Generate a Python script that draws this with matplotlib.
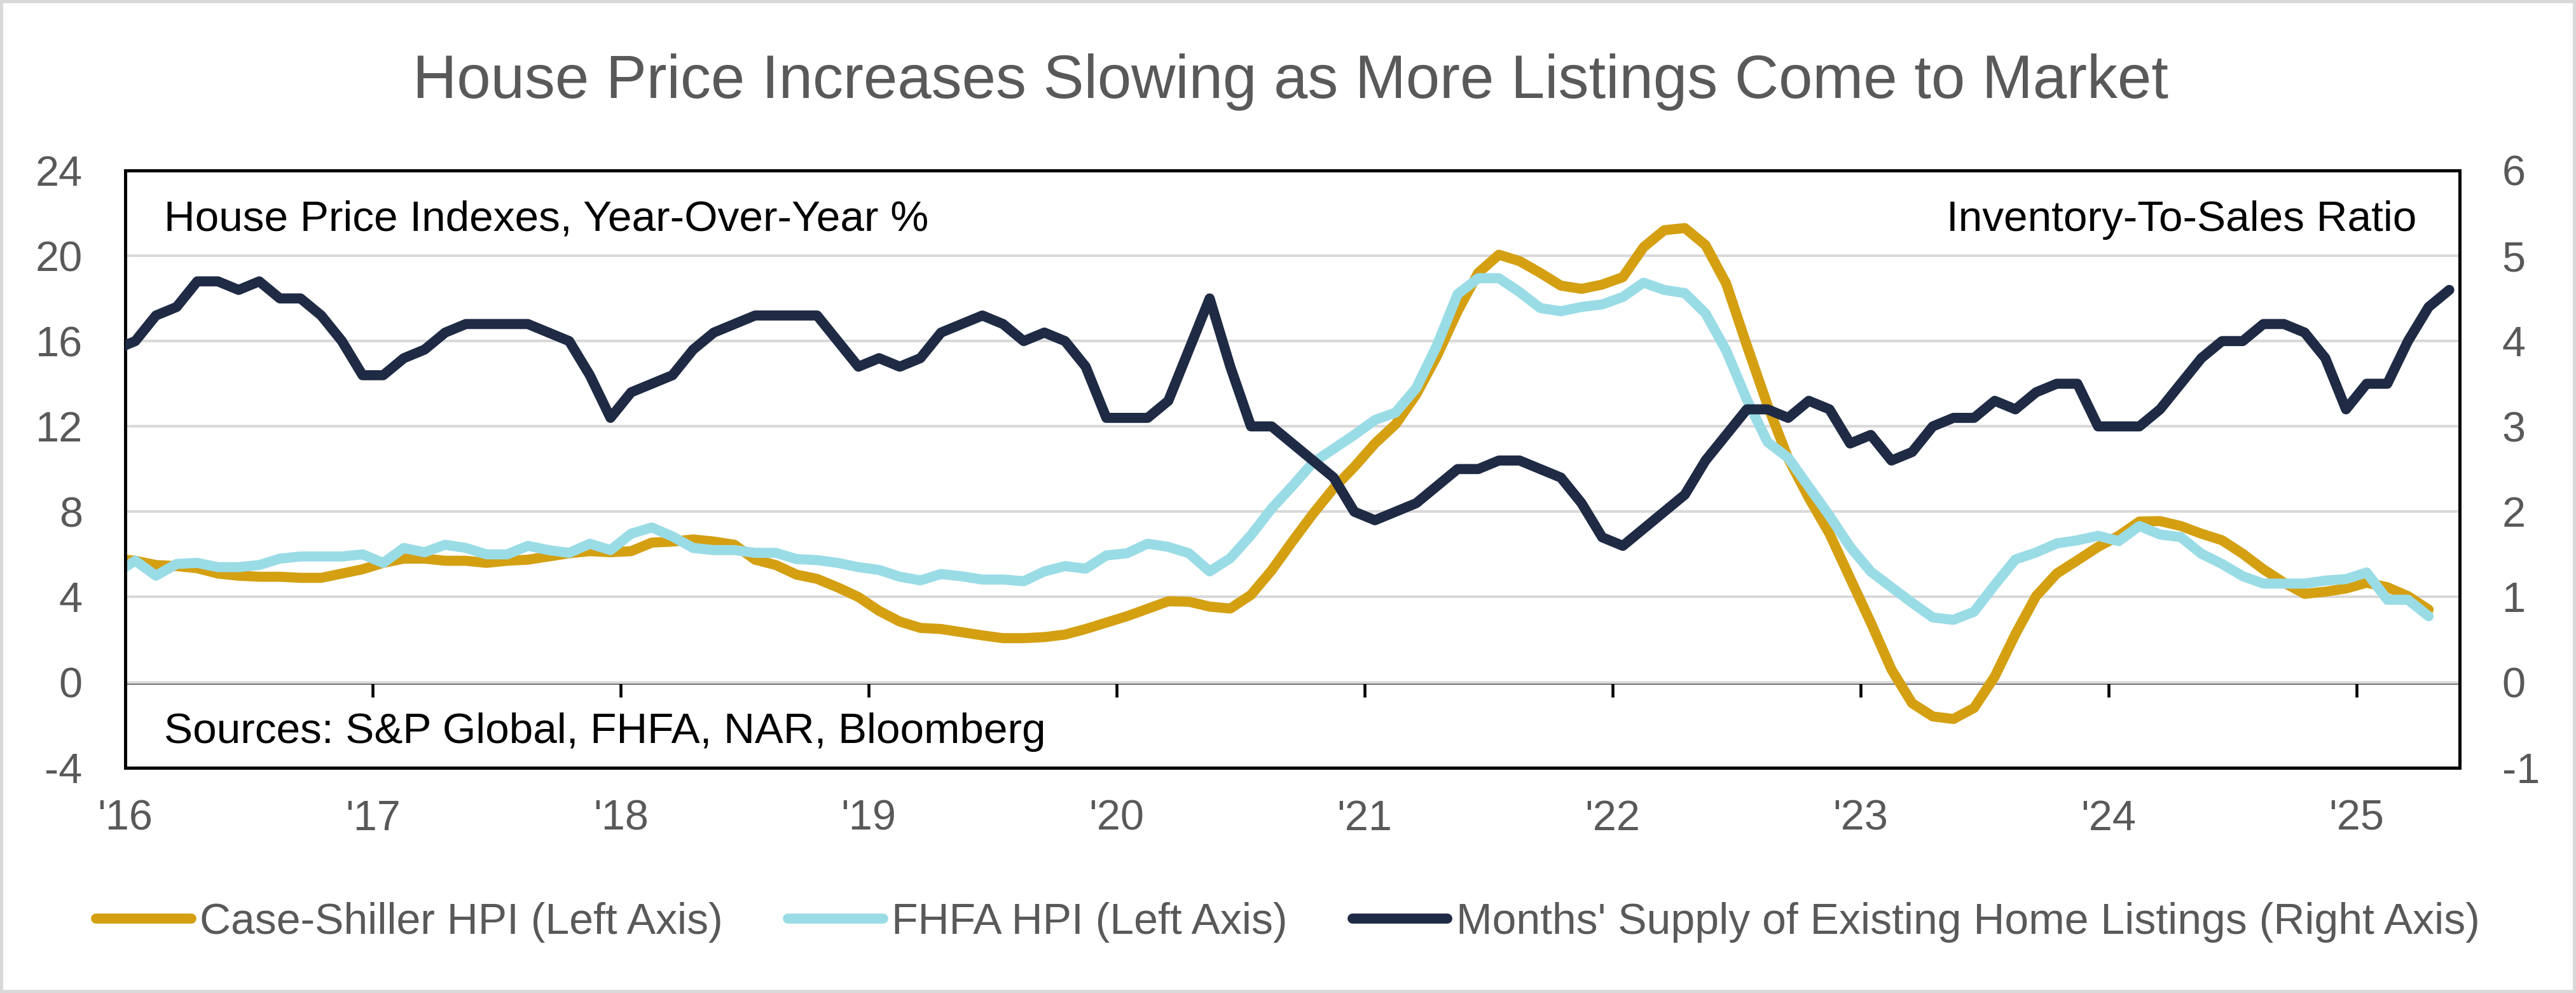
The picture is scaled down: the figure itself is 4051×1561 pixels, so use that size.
import matplotlib
matplotlib.use("Agg")
import matplotlib.pyplot as plt
import numpy as np
from matplotlib.patches import Rectangle

plt.rcParams['font.family'] = ['Liberation Sans', 'DejaVu Sans']
plt.rcParams['axes.unicode_minus'] = False

# monthly data, first value = Dec 2015 (month index -1, Jan 2016 = 0)
first_month = -1

case_shiller = [5.8, 5.7, 5.5, 5.45, 5.35, 5.1, 5.0, 4.95, 4.95, 4.9, 4.9, 5.1, 5.3,
                5.6, 5.8, 5.8, 5.7, 5.7, 5.6, 5.7, 5.75, 5.9, 6.05, 6.15, 6.1,
                6.15, 6.55, 6.6, 6.7, 6.6, 6.45, 5.75, 5.5, 5.05, 4.85, 4.45, 4.0,
                3.35, 2.85, 2.55, 2.5, 2.35, 2.2, 2.07, 2.07, 2.12, 2.24, 2.5, 2.8,
                3.1, 3.45, 3.8, 3.78, 3.55, 3.46, 4.1, 5.25, 6.6, 7.9, 9.1, 10.1,
                11.2, 12.1, 13.5, 15.3, 17.4, 19.2, 20.05, 19.75, 19.2, 18.6, 18.45, 18.65,
                19.0, 20.4, 21.2, 21.3, 20.5, 18.7, 15.8, 13.0, 10.5, 8.65, 6.97, 4.88,
                2.8, 0.6, -0.98, -1.6, -1.72, -1.2, 0.27, 2.26, 4.04, 5.1, 5.72, 6.35,
                6.87, 7.54, 7.56, 7.33, 6.97, 6.66, 6.03, 5.3, 4.67, 4.15, 4.25, 4.4,
                4.67, 4.46, 4.04, 3.41]

fhfa = [5.1, 5.7, 5.0, 5.55, 5.6, 5.4, 5.4, 5.5, 5.8, 5.9, 5.9, 5.9, 6.0,
        5.6, 6.3, 6.1, 6.45, 6.3, 6.0, 6.0, 6.4, 6.2, 6.07, 6.5, 6.2,
        6.97, 7.26, 6.84, 6.3, 6.2, 6.2, 6.07, 6.07, 5.78, 5.73, 5.6, 5.4,
        5.27, 4.95, 4.78, 5.08, 4.97, 4.82, 4.82, 4.74, 5.2, 5.45, 5.33, 5.95,
        6.05, 6.5, 6.35, 6.05, 5.2, 5.82, 6.9, 8.15, 9.2, 10.3, 10.95, 11.6,
        12.3, 12.65, 13.8, 15.8, 18.2, 18.95, 18.95, 18.3, 17.55, 17.4, 17.6, 17.72,
        18.07, 18.74, 18.4, 18.25, 17.3, 15.56, 13.26, 11.27, 10.53, 9.17, 7.81, 6.35,
        5.19, 4.46, 3.73, 3.04, 2.93, 3.31, 4.57, 5.76, 6.09, 6.51, 6.66, 6.87,
        6.62, 7.33, 6.93, 6.81, 6.03, 5.55, 4.98, 4.63, 4.63, 4.63, 4.77, 4.84,
        5.15, 3.87, 3.87, 3.1]

months_supply = [3.9, 4.0, 4.3, 4.4, 4.7, 4.7, 4.6, 4.7, 4.5, 4.5, 4.3, 4.0, 3.6,
                 3.6, 3.8, 3.9, 4.1, 4.2, 4.2, 4.2, 4.2, 4.1, 4.0, 3.6, 3.1,
                 3.4, 3.5, 3.6, 3.9, 4.1, 4.2, 4.3, 4.3, 4.3, 4.3, 4.0, 3.7,
                 3.8, 3.7, 3.8, 4.1, 4.2, 4.3, 4.2, 4.0, 4.1, 4.0, 3.7, 3.1,
                 3.1, 3.1, 3.3, 3.9, 4.5, 3.7, 3.0, 3.0, 2.8, 2.6, 2.4, 2.0,
                 1.9, 2.0, 2.1, 2.3, 2.5, 2.5, 2.6, 2.6, 2.5, 2.4, 2.1, 1.7,
                 1.6, 1.8, 2.0, 2.2, 2.6, 2.9, 3.2, 3.2, 3.1, 3.3, 3.2, 2.8,
                 2.9, 2.6, 2.7, 3.0, 3.1, 3.1, 3.3, 3.2, 3.4, 3.5, 3.5, 3.0,
                 3.0, 3.0, 3.2, 3.5, 3.8, 4.0, 4.0, 4.2, 4.2, 4.1, 3.8, 3.2,
                 3.5, 3.5, 4.0, 4.4, 4.6]

year_labels = ["'16", "'17", "'18", "'19", "'20", "'21", "'22", "'23", "'24", "'25"]
left_ticks = [-4, 0, 4, 8, 12, 16, 20, 24]
right_ticks = [-1, 0, 1, 2, 3, 4, 5, 6]

series_names = ["Case-Shiller HPI (Left Axis)", "FHFA HPI (Left Axis)",
                "Months' Supply of Existing Home Listings (Right Axis)"]

GOLD = '#D4A012'
LIGHTBLUE = '#9ADCE6'
NAVY = '#1F2A44'
GRAY = '#595959'
GRID = '#D9D9D9'


def mid_month(values):
    # points sit in the middle of each month
    return np.arange(first_month, first_month + len(values)) + 0.5


fig = plt.figure(figsize=(4051 / 300, 1561 / 300), dpi=300, facecolor='white')
ax = fig.add_axes([196.5 / 4051, 1 - 1206.7 / 1561, (3868 - 196.5) / 4051, (1206.7 - 268) / 1561])

lw = 3.8
l1, = ax.plot(mid_month(case_shiller), case_shiller, color=GOLD, lw=lw,
              solid_capstyle='round', solid_joinstyle='round')
l2, = ax.plot(mid_month(fhfa), fhfa, color=LIGHTBLUE, lw=lw,
              solid_capstyle='round', solid_joinstyle='round')

ax.set_ylim(left_ticks[0], left_ticks[-1])
ax.set_yticks(left_ticks)
ax.set_xlim(0, 113)
year_ticks = [12 * i for i in range(len(year_labels))]
ax.set_xticks(year_ticks)
ax.set_xticklabels(year_labels)
ax.grid(axis='y', color=GRID, lw=1.0)
ax.set_axisbelow(True)
ax.tick_params(axis='both', length=0, labelsize=16, labelcolor=GRAY)
ax.tick_params(axis='y', pad=16)
ax.tick_params(axis='x', pad=12)
for s in ax.spines.values():
    s.set_color('black')
    s.set_linewidth(1.2)

# zero line with year tick marks
zero_pos = (0 - left_ticks[0]) / (left_ticks[-1] - left_ticks[0])
secax = ax.secondary_xaxis(zero_pos)
secax.set_xticks(year_ticks)
secax.tick_params(direction='out', length=5.5, width=1.1, color='black', labelbottom=False, labeltop=False)
secax.spines['bottom'].set_linewidth(1.2)
secax.spines['bottom'].set_color('black')

ax2 = ax.twinx()
l3, = ax2.plot(mid_month(months_supply), months_supply, color=NAVY, lw=lw,
               solid_capstyle='round', solid_joinstyle='round')
ax2.set_ylim(right_ticks[0], right_ticks[-1])
ax2.set_yticks(right_ticks)
ax2.tick_params(axis='y', length=0, labelsize=16, labelcolor=GRAY, pad=16)
for s in ax2.spines.values():
    s.set_visible(False)

ax.text(0.0168, 0.8988, "House Price Indexes, Year-Over-Year %", transform=ax.transAxes,
        fontsize=16.2, color='black', ha='left', va='baseline')
ax.text(0.9815, 0.8988, "Inventory-To-Sales Ratio", transform=ax.transAxes,
        fontsize=16.2, color='black', ha='right', va='baseline')
ax.text(0.0168, 0.041, "Sources: S&P Global, FHFA, NAR, Bloomberg", transform=ax.transAxes,
        fontsize=16.2, color='black', ha='left', va='baseline')

fig.text(0.501, 1 - 154 / 1561, "House Price Increases Slowing as More Listings Come to Market",
         fontsize=23, color=GRAY, ha='center', va='baseline')

leg = fig.legend([l1, l2, l3], series_names, loc='center', bbox_to_anchor=(0.5, 1 - 1450 / 1561),
                 ncol=3, frameon=False, fontsize=16.3, handlelength=2.2, handletextpad=0.2,
                 columnspacing=1.5, borderpad=0, borderaxespad=0)
for t in leg.get_texts():
    t.set_color(GRAY)

fig.patches.append(Rectangle((0, 0), 1, 1, transform=fig.transFigure, fill=False,
                             edgecolor=GRID, linewidth=2.4))

fig.savefig('out.png', dpi=300, facecolor='white')
